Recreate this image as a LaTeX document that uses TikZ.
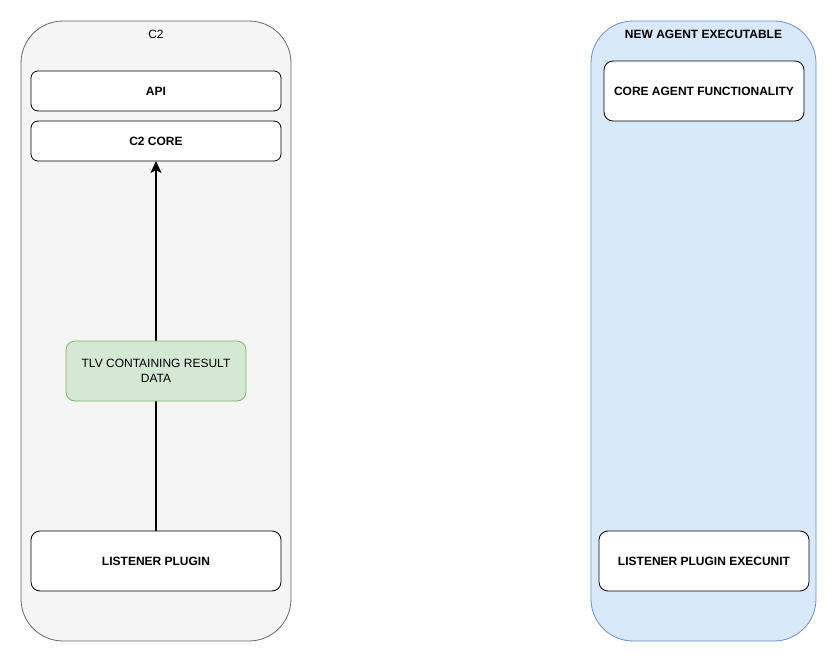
\documentclass[tikz,border=0pt]{standalone}
\usepackage{fontspec}
\setmainfont{Liberation Sans}
\usetikzlibrary{arrows.meta}
\definecolor{grayfill}{HTML}{F5F5F5}
\definecolor{graystroke}{HTML}{666666}
\definecolor{bluefill}{HTML}{DAE8FC}
\definecolor{bluestroke}{HTML}{6C8EBF}
\definecolor{greenfill}{HTML}{D5E8D4}
\definecolor{greenstroke}{HTML}{82B366}
\tikzset{
	container/.style={draw, rounded corners=42pt, line width=0.8pt, inner sep=0pt, outer sep=0pt},
	block/.style={draw=black, fill=white, rounded corners=7pt, line width=0.8pt, inner sep=0pt, outer sep=0pt, font=\fontsize{12}{15}\selectfont\bfseries},
	title/.style={font=\fontsize{12}{15}\selectfont, inner sep=0pt},
	flow/.style={line width=2pt, -{Stealth[length=12pt, width=11pt, inset=3pt]}}
}
\begin{document}
\begin{tikzpicture}[x=1pt, y=-1pt]
		%%%%% START %%%%%
		\useasboundingbox (0, 0) rectangle (839, 664);
		
		\node[container, fill=grayfill, draw=graystroke, minimum width=270pt, minimum height=620pt] (c2) at (156, 331) {};
		\node[title] (c2title) at (156, 34) {C2};
		
		\node[container, fill=bluefill, draw=bluestroke, minimum width=225pt, minimum height=620pt] (agent) at (703.5, 331) {};
		\node[title, font=\fontsize{12}{15}\selectfont\bfseries] (agenttitle) at (703.5, 34) {NEW AGENT EXECUTABLE};
		
		\node[block, minimum width=250pt, minimum height=40pt] (api) at (156, 91) {API};
		\node[block, minimum width=250pt, minimum height=40pt] (core) at (156, 141) {C2 CORE};
		\node[block, rounded corners=9pt, minimum width=250pt, minimum height=60pt] (listener) at (156, 561) {LISTENER PLUGIN};
		
		\node[block, rounded corners=9pt, minimum width=200pt, minimum height=60pt] (agentcore) at (704, 91) {CORE AGENT FUNCTIONALITY};
		\node[block, rounded corners=9pt, minimum width=210pt, minimum height=60pt] (execunit) at (704, 561) {LISTENER PLUGIN EXECUNIT};
		
		\draw[flow] (listener.north) -- (core.south);
		
		\node[block, fill=greenfill, draw=greenstroke, rounded corners=9pt, minimum width=180pt, minimum height=60pt, align=center, font=\fontsize{12}{15}\selectfont] (tlv) at (156, 371) {TLV CONTAINING RESULT\\DATA};
		%%%%% END %%%%%
	\end{tikzpicture}
\end{document}
